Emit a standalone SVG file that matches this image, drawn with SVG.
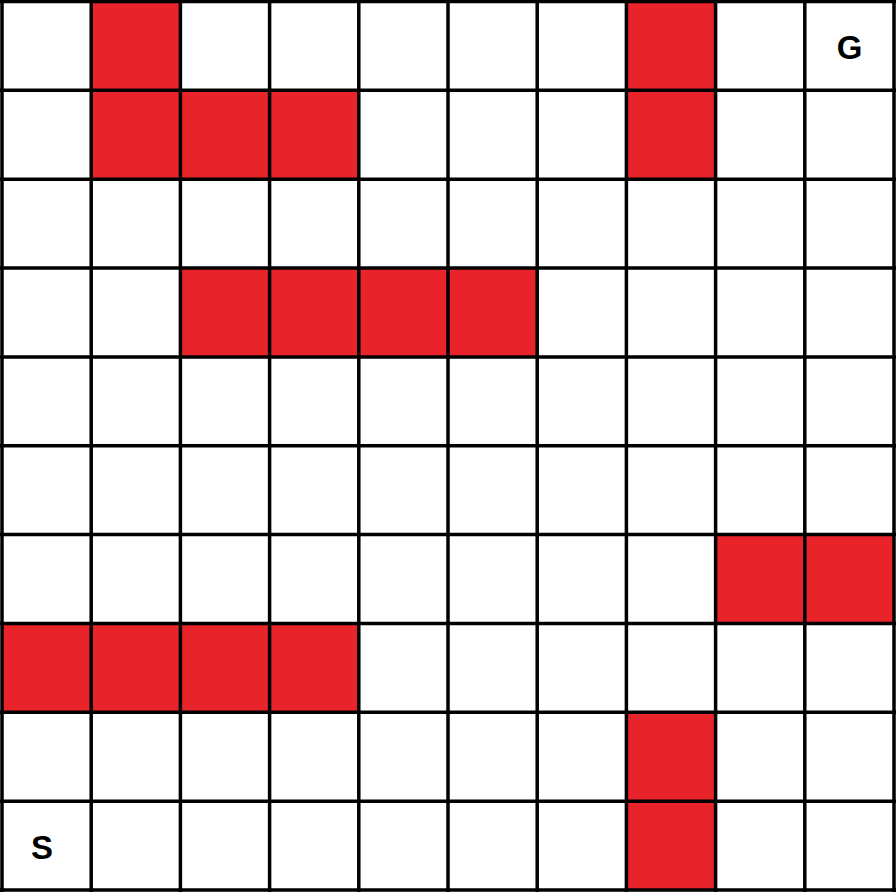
<svg xmlns="http://www.w3.org/2000/svg" width="896" height="892" viewBox="0 0 896 892">
<style>
.r{fill:#E8232A}
.g{stroke:#000;stroke-width:3.5;fill:none}
.t{font-family:"Liberation Sans",Arial,sans-serif;font-weight:bold;font-size:33px;fill:#000;text-anchor:middle}
</style>
<rect x="0" y="0" width="896" height="892" fill="#fff"/>
<g id="obstacles">
<rect class="r" x="91.2" y="1.5" width="89.2" height="88.85"/>
<rect class="r" x="626.4" y="1.5" width="89.2" height="88.85"/>
<rect class="r" x="91.2" y="90.35" width="267.6" height="88.85"/>
<rect class="r" x="626.4" y="90.35" width="89.2" height="88.85"/>
<rect class="r" x="180.4" y="268.05" width="356.8" height="88.85"/>
<rect class="r" x="715.6" y="534.6" width="178.4" height="88.85"/>
<rect class="r" x="2" y="623.45" width="356.8" height="88.85"/>
<rect class="r" x="626.4" y="712.3" width="89.2" height="177.7"/>
</g>
<g id="grid" class="g">
<path d="M2 0V892M91.2 0V892M180.4 0V892M269.6 0V892M358.8 0V892M448 0V892M537.2 0V892M626.4 0V892M715.6 0V892M804.8 0V892M894 0V892"/>
<path d="M0 1.5H896M0 90.35H896M0 179.2H896M0 268.05H896M0 356.9H896M0 445.75H896M0 534.6H896M0 623.45H896M0 712.3H896M0 801.15H896M0 890H896"/>
</g>
<g id="labels">
<text class="t" x="849.5" y="58.5">G</text>
<text class="t" x="42" y="858.5">S</text>
</g>
</svg>
